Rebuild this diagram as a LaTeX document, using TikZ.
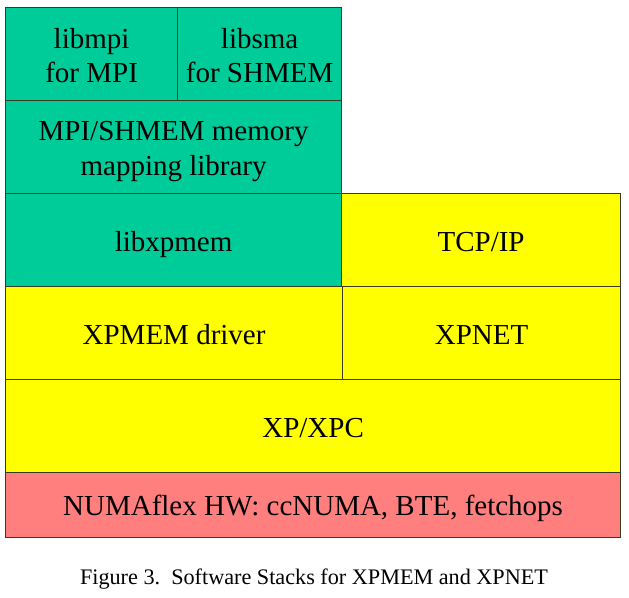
\documentclass[tikz,border=0pt]{standalone}
\usepackage{fontspec}
\setmainfont{Liberation Serif}
\usetikzlibrary{calc}
\definecolor{stkgreen}{HTML}{00CC99}
\definecolor{stkyellow}{HTML}{FFFF00}
\definecolor{stkpink}{HTML}{FF7F7F}
\definecolor{stkline}{HTML}{3A3A20}
\begin{document}
\begin{tikzpicture}[x=1pt,y=-1pt,
  layer/.style={draw=stkline,line width=1.2pt,anchor=north west,inner sep=0pt},
  greenbox/.style={layer,fill=stkgreen},
  yellowbox/.style={layer,fill=stkyellow},
  pinkbox/.style={layer,fill=stkpink},
  txt/.style={anchor=base,inner sep=0pt,font=\fontsize{29}{35}\selectfont}]
\useasboundingbox (0,0) rectangle (629,597);
% boxes
\node[greenbox,minimum width=172pt,minimum height=93pt] (libmpi) at (5,7) {};
\node[greenbox,minimum width=164pt,minimum height=93pt] (libsma) at (177,7) {};
\node[greenbox,minimum width=336pt,minimum height=93pt] (map) at (5,100) {};
\node[greenbox,minimum width=336pt,minimum height=93pt] (libxpmem) at (5,193) {};
\node[yellowbox,minimum width=279pt,minimum height=93pt] (tcpip) at (341,193) {};
\node[yellowbox,minimum width=337pt,minimum height=93pt] (driver) at (5,286) {};
\node[yellowbox,minimum width=278pt,minimum height=93pt] (xpnet) at (342,286) {};
\node[yellowbox,minimum width=615pt,minimum height=93pt] (xpxpc) at (5,379) {};
\node[pinkbox,minimum width=615pt,minimum height=65pt] (numa) at (5,472) {};
% texts
\node[txt] (libmpi-a) at (libmpi.center |- 0,48) {libmpi};
\node[txt] (libmpi-b) at (libmpi.center |- 0,82) {for MPI};
\node[txt] (libsma-a) at (libsma.center |- 0,48) {libsma};
\node[txt] (libsma-b) at (libsma.center |- 0,82) {for SHMEM};
\node[txt] (map-a) at (map.center |- 0,140) {MPI/SHMEM memory};
\node[txt] (map-b) at (map.center |- 0,175) {mapping library};
\node[txt] (libxpmem-t) at (libxpmem.center |- 0,251) {libxpmem};
\node[txt] (tcpip-t) at (tcpip.center |- 0,251) {TCP/IP};
\node[txt] (driver-t) at (driver.center |- 0,344) {XPMEM driver};
\node[txt] (xpnet-t) at (xpnet.center |- 0,344) {XPNET};
\node[txt] (xpxpc-t) at (xpxpc.center |- 0,437) {XP/XPC};
\node[txt] (numa-t) at (numa.center |- 0,515) {NUMAflex HW: ccNUMA, BTE, fetchops};
\node[anchor=base,inner sep=0pt,font=\fontsize{22.2}{26}\selectfont] (caption) at (314,584) {Figure 3.\ \ Software Stacks for XPMEM and XPNET};
\end{tikzpicture}
\end{document}
